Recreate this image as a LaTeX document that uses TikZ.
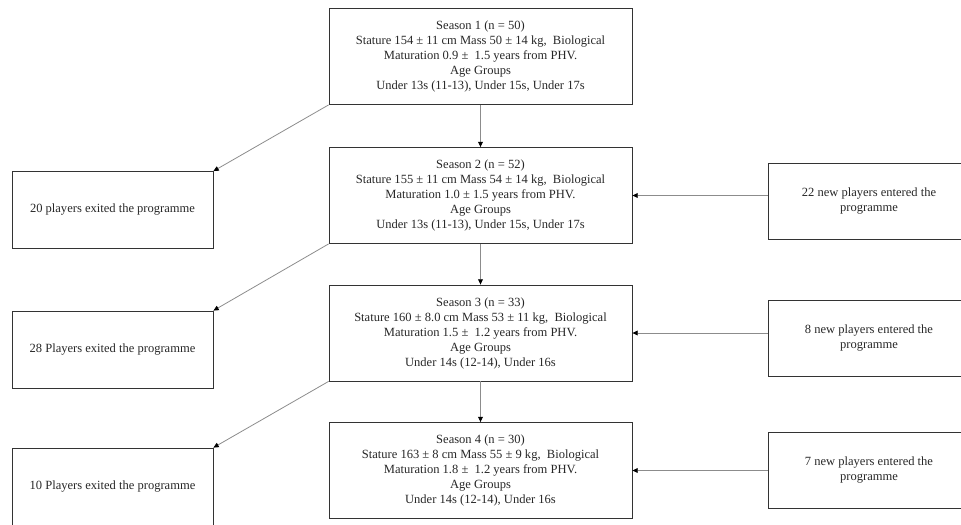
\documentclass[tikz,border=0pt]{standalone}
\usepackage{fontspec}
\setmainfont{Liberation Serif}
\usepackage{xcolor}
\usepackage{tikz}
\usetikzlibrary{arrows.meta}

\begin{document}
\begin{tikzpicture}[
    x=0.75pt, y=-0.75pt,
    >={Triangle[length=4pt, width=3.6pt, color=black]},
    box/.style={
        draw=black!80, line width=0.6pt, align=center, inner sep=0pt,
        font=\fontsize{9.4}{11.25}\selectfont, text=black!85
    },
    season/.style={box, minimum width=227.25pt, minimum height=72pt},
    exitbox/.style={box, minimum width=150.75pt, minimum height=57.75pt},
    entrybox/.style={box, minimum width=151.5pt, minimum height=57pt},
    arr/.style={->, draw=black!45, line width=0.6pt},
]
\useasboundingbox (0,0) rectangle (961,525);

% Seasons
\node[season] (s1) at (480.5, 56.5) {Season 1 (n = 50)\\Stature 154 ± 11 cm Mass 50 ± 14 kg,\ \ Biological\\Maturation 0.9 ±\ \ 1.5 years from PHV.\\Age Groups\\Under 13s (11-13), Under 15s, Under 17s};
\node[season] (s2) at (480.5,195.5) {Season 2 (n = 52)\\Stature 155 ± 11 cm Mass 54 ± 14 kg,\ \ Biological\\Maturation 1.0 ± 1.5 years from PHV.\\Age Groups\\Under 13s (11-13), Under 15s, Under 17s};
\node[season] (s3) at (480.5,333) {Season 3 (n = 33)\\Stature 160 ± 8.0 cm Mass 53 ± 11 kg,\ \ Biological\\Maturation 1.5 ±\ \ 1.2 years from PHV.\\Age Groups\\Under 14s (12-14), Under 16s};
\node[season] (s4) at (480.5,470.5) {Season 4 (n = 30)\\Stature 163 ± 8 cm Mass 55 ± 9 kg,\ \ Biological\\Maturation 1.8 ±\ \ 1.2 years from PHV.\\Age Groups\\Under 14s (12-14), Under 16s};

% Players leaving
\node[exitbox] (out1) at (112.5,210) {20 players exited the programme};
\node[exitbox] (out2) at (112.5,349.5) {28 Players exited the programme};
\node[exitbox] (out3) at (112.5,486.5) {10 Players exited the programme};

% Players joining
\node[entrybox] (in1) at (869,201.5) {22 new players entered the\\programme};
\node[entrybox] (in2) at (869,338.5) {8 new players entered the\\programme};
\node[entrybox] (in3) at (869,470) {7 new players entered the\\programme};

% Season to season
\draw[arr] (s1) -- (s2);
\draw[arr] (s2) -- (s3);
\draw[arr] (s3) -- (s4);

% Exits
\draw[arr] (s1.south west) -- (out1.north east);
\draw[arr] (s2.south west) -- (out2.north east);
\draw[arr] (s3.south west) -- (out3.north east);

% New players
\draw[arr] (in1.west |- s2.east) -- (s2.east);
\draw[arr] (in2.west |- s3.east) -- (s3.east);
\draw[arr] (in3.west |- s4.east) -- (s4.east);

\end{tikzpicture}
\end{document}
